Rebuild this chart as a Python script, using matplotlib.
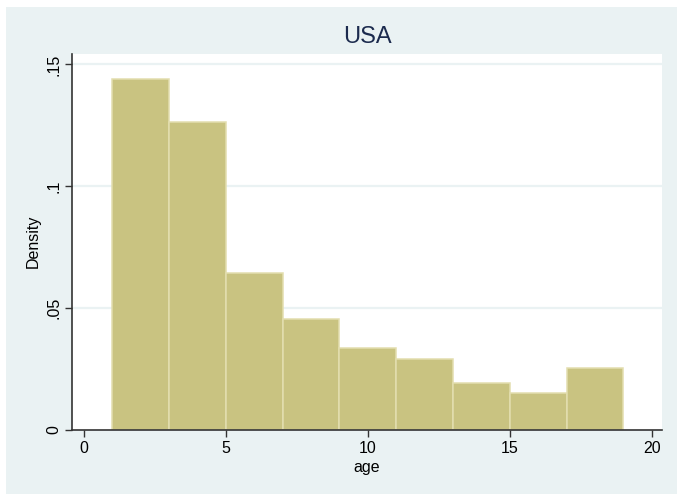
import matplotlib
matplotlib.use("Agg")
import matplotlib.pyplot as plt
from matplotlib.patches import Rectangle

plt.rcParams['font.family'] = ['Liberation Sans', 'DejaVu Sans']

# Histogram of age (bin edges and densities)
bin_edges = [1, 3, 5, 7, 9, 11, 13, 15, 17, 19]
density = [0.1440, 0.1262, 0.0644, 0.0454, 0.0336, 0.0291, 0.0192, 0.0149, 0.0251]

x_ticks = [0, 5, 10, 15, 20]
x_ticklabels = ["0", "5", "10", "15", "20"]
y_ticks = [0, 0.05, 0.10, 0.15]
y_ticklabels = ["0", ".05", ".1", ".15"]

title = "USA"
x_label = "age"
y_label = "Density"

bg = "#EAF2F3"
bar_fill = "#C9C381"
bar_edge = "#E3DEAF"

W, H = 677, 494
fig = plt.figure(figsize=(W / 100, H / 100), dpi=100, facecolor="white")
# graph region background, kept behind the axes
fig.patches.append(Rectangle((6 / W, 0), 1 - 6 / W, 1 - 7 / H,
                             transform=fig.transFigure, facecolor=bg,
                             edgecolor="none", zorder=-10))

ax = fig.add_axes([72.3 / W, 1 - 429.5 / H, (662 - 72.3) / W, (429.5 - 54) / H])
ax.set_zorder(5)
ax.set_facecolor("white")

widths = [b - a for a, b in zip(bin_edges[:-1], bin_edges[1:])]
ax.bar(bin_edges[:-1], density, width=widths, align="edge",
       color=bar_fill, edgecolor=bar_edge, linewidth=1.1, zorder=2)

ax.set_xlim(-0.40, 20.36)
ax.set_ylim(0, 0.1543)

for y in y_ticks[1:]:
    ax.axhline(y, color=bg, linewidth=1.6, zorder=1)

ax.set_xticks(x_ticks)
ax.set_xticklabels(x_ticklabels)
ax.set_yticks(y_ticks)
ax.set_yticklabels(y_ticklabels, rotation=90, va="center")

ax.tick_params(axis="both", length=5, width=1.0, color="#333333",
               labelsize=11.5, labelcolor="black", pad=3)

for side in ("top", "right"):
    ax.spines[side].set_visible(False)
for side in ("left", "bottom"):
    ax.spines[side].set_color("#333333")
    ax.spines[side].set_linewidth(1.2)

ax.set_xlabel(x_label, fontsize=11.5, color="black", labelpad=3)
ax.set_ylabel(y_label, fontsize=11.5, color="black", labelpad=4)
fig.text((72.3 + 662) / 2 / W, 1 - 37 / H, title, ha="center", va="center",
         fontsize=17, color="#1C2B4E")

fig.savefig("out.png", dpi=100, facecolor=fig.get_facecolor())
